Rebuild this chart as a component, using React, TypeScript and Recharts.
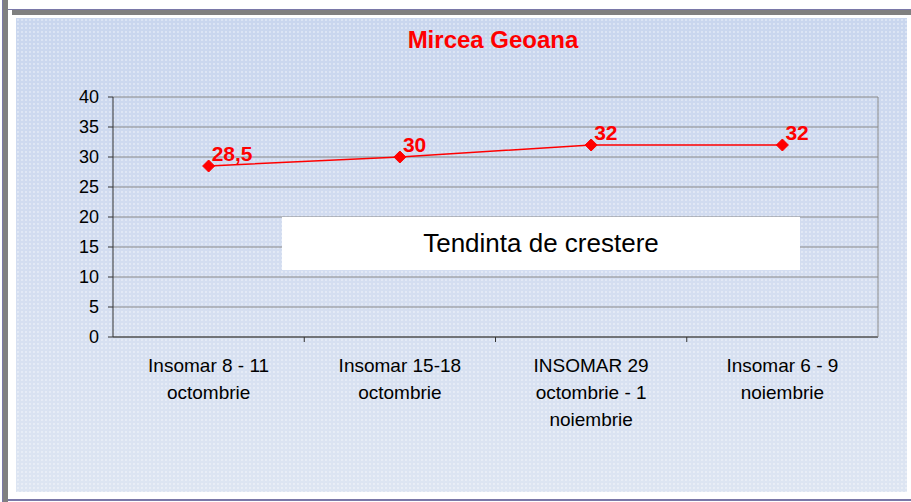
import React from 'react';
import { LineChart, Line, XAxis, YAxis, CartesianGrid, LabelList } from 'recharts';

// survey rounds (x-axis), one entry per poll
const categories = [
  'Insomar 8 - 11\noctombrie',
  'Insomar 15-18\noctombrie',
  'INSOMAR 29\noctombrie - 1\nnoiembrie',
  'Insomar 6 - 9\nnoiembrie',
];
const geoanaValues = [28.5, 30, 32, 32];
const yTicks = [0, 5, 10, 15, 20, 25, 30, 35, 40];

const data = categories.map((name, i) => ({ name, geoana: geoanaValues[i] }));

const FONT = '"Liberation Sans", Arial, sans-serif';
const BAND = 765 / categories.length;

const CategoryTick = (props: any) => {
  const { x, y, payload, index } = props;
  const lines = String(payload.value).split('\n');
  return (
    <g>
      {index < categories.length - 1 && (
        <line x1={x + BAND / 2} x2={x + BAND / 2} y1={y - 8} y2={y - 3} stroke="#333" strokeWidth={1} />
      )}
      <text x={x} y={y} textAnchor="middle" fontFamily={FONT} fontSize={19} fill="#000">
        {lines.map((l, i) => (
          <tspan key={i} x={x} y={y + 27 + i * 27}>
            {l}
          </tspan>
        ))}
      </text>
    </g>
  );
};

const Diamond = (props: any) => {
  const { cx, cy } = props;
  if (cx == null || cy == null) return null;
  return (
    <polygon
      points={`${cx},${cy - 6} ${cx + 6},${cy} ${cx},${cy + 6} ${cx - 6},${cy}`}
      fill="#ff0000"
      stroke="#ff0000"
    />
  );
};

const ValueLabel = (props: any) => {
  const { x, y, value } = props;
  return (
    <text x={x + 3} y={y - 5} fontFamily={FONT} fontSize={21} fontWeight="bold" fill="#ff0000">
      {String(value).replace('.', ',')}
    </text>
  );
};

export default function App() {
  return (
    <div style={{ position: 'absolute', left: 0, top: 0, width: 911, height: 502, background: '#fff', overflow: 'hidden' }}>
      {/* frame */}
      <div style={{ position: 'absolute', left: 2, top: 0, width: 1, height: 502, background: '#7a78a8' }} />
      <div style={{ position: 'absolute', left: 3, top: 0, width: 5, height: 502, background: '#808080' }} />
      <div style={{ position: 'absolute', left: 8, top: 9, width: 903, height: 1, background: '#7a78a8' }} />
      <div style={{ position: 'absolute', left: 12, top: 10, width: 899, height: 5, background: '#808080' }} />
      <div style={{ position: 'absolute', left: 8, top: 499, width: 903, height: 2, background: '#7a78a8' }} />
      {/* panel */}
      <div
        style={{
          position: 'absolute',
          left: 16,
          top: 18,
          width: 891,
          height: 474,
          backgroundColor: '#d3ddf0',
          backgroundImage:
            'radial-gradient(rgba(255,255,255,0.35) 0.7px, transparent 1px), linear-gradient(to bottom, #c9d6ee 0%, #d2dcf0 45%, #dde5f2 100%)',
          backgroundSize: '4px 4px, 100% 100%',
        }}
      />
      <div
        style={{
          position: 'absolute',
          left: 0,
          width: 986,
          top: 26,
          textAlign: 'center',
          fontFamily: FONT,
          fontSize: 24,
          fontWeight: 'bold',
          color: '#ff0000',
          lineHeight: '28px',
        }}
      >
        Mircea Geoana
      </div>
      <div style={{ position: 'absolute', left: 0, top: 0 }}>
        <LineChart width={911} height={502} data={data} margin={{ top: 97, right: 32, bottom: 65, left: 53 }}>
          <CartesianGrid vertical={false} stroke="#888" strokeWidth={1} />
          <XAxis
            dataKey="name"
            interval={0}
            height={100}
            padding={{ left: BAND / 2, right: BAND / 2 }}
            tickLine={false}
            tick={<CategoryTick />}
            axisLine={{ stroke: '#333', strokeWidth: 1 }}
          />
          <YAxis
            domain={[0, 40]}
            ticks={yTicks}
            interval={0}
            width={60}
            tickSize={5}
            tickMargin={9}
            axisLine={{ stroke: '#333', strokeWidth: 1 }}
            tickLine={{ stroke: '#333' }}
            tick={{ fontFamily: FONT, fontSize: 18, fill: '#000' }}
          />
          <YAxis
            yAxisId="border"
            orientation="right"
            domain={[0, 40]}
            width={1}
            tick={false}
            tickLine={false}
            axisLine={{ stroke: '#888', strokeWidth: 1 }}
          />
          <Line
            dataKey="geoana"
            stroke="#ff0000"
            strokeWidth={1.5}
            dot={<Diamond />}
            activeDot={false}
            isAnimationActive={false}
          >
            <LabelList dataKey="geoana" content={<ValueLabel />} />
          </Line>
        </LineChart>
      </div>
      <div
        style={{
          position: 'absolute',
          left: 282,
          top: 217,
          width: 518,
          height: 53,
          background: '#fff',
          display: 'flex',
          alignItems: 'center',
          justifyContent: 'center',
          fontFamily: FONT,
          fontSize: 26,
          color: '#000',
        }}
      >
        Tendinta de crestere
      </div>
    </div>
  );
}
